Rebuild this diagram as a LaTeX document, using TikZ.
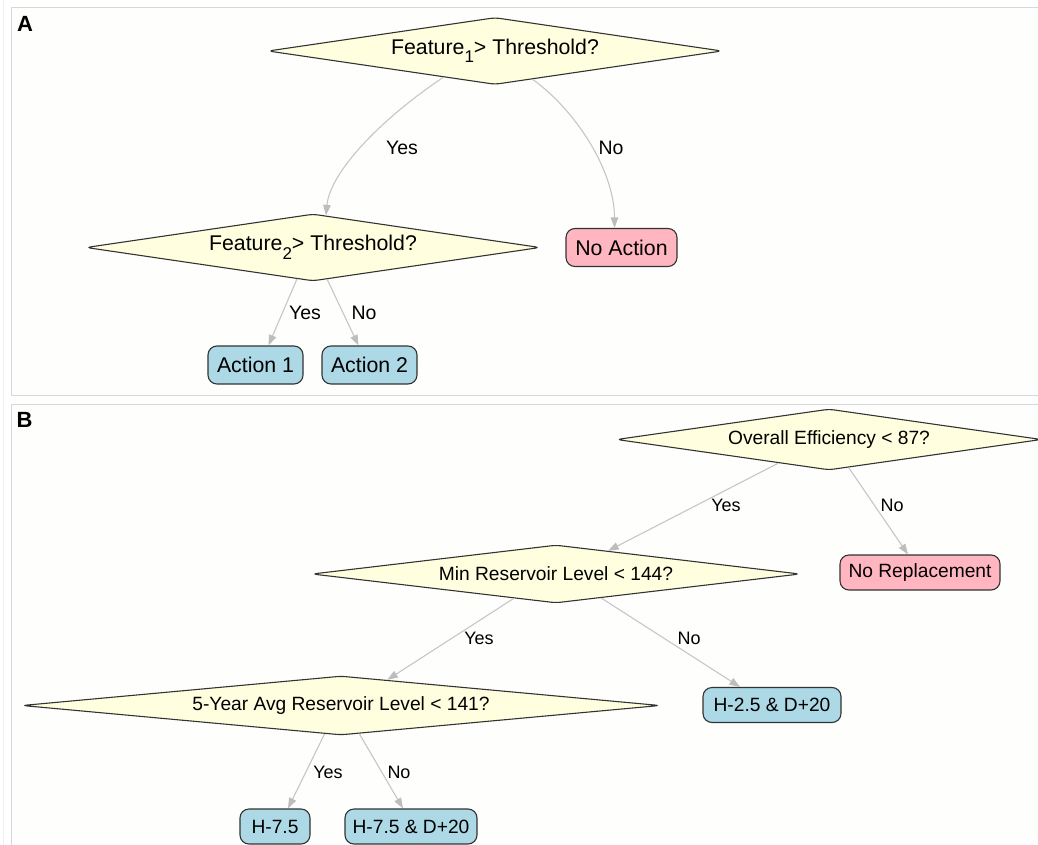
\documentclass[tikz,border=0pt]{standalone}
\usepackage{fontspec}
\setmainfont{Liberation Sans}
\usetikzlibrary{shapes.geometric,arrows.meta}
\definecolor{dfill}{HTML}{FFFFE0}
\definecolor{bfill}{HTML}{ADD8E6}
\definecolor{pfill}{HTML}{FFB6C1}
\definecolor{edgec}{HTML}{C6C6C6}
\definecolor{arrowc}{HTML}{BDBDBD}
\definecolor{framec}{HTML}{D8D8D8}
\definecolor{nodeline}{HTML}{333333}
\definecolor{panelbg}{HTML}{FEFEFC}
\newcommand\subidx[1]{\raisebox{-0.4em}{\fontsize{17}{17}\selectfont #1}}
\tikzset{
  dec/.style={diamond, aspect=9, inner sep=0pt, draw=nodeline, fill=dfill, line width=1.1pt, rounded corners=5pt},
  decA/.style={dec, font=\fontsize{21.3}{24}\selectfont},
  decB/.style={dec, font=\fontsize{19.2}{22}\selectfont},
  leafbox/.style={rectangle, rounded corners=9pt, draw=nodeline, line width=1.1pt, inner sep=0pt},
  leafA/.style={leafbox, minimum height=38pt, font=\fontsize{21.3}{24}\selectfont},
  leafB/.style={leafbox, minimum height=35pt, font=\fontsize{19.2}{22}\selectfont},
  bleaf/.style={fill=bfill},
  pleaf/.style={fill=pfill},
  lblA/.style={font=\fontsize{19.5}{22}\selectfont, inner sep=0pt},
  lblB/.style={font=\fontsize{18}{21}\selectfont, inner sep=0pt},
  panelbox/.style={draw=framec, line width=1.6pt, fill=panelbg},
  paneltag/.style={font=\fontsize{22}{24}\selectfont\bfseries, inner sep=0pt},
  edge/.style={draw=edgec, line width=1.1pt, -{Triangle[length=10.5pt,width=7.5pt,color=arrowc]}}
}
\begin{document}
\begin{tikzpicture}[x=1pt,y=-1pt]
\useasboundingbox (0,0) rectangle (1038,845);
\clip (0,0) rectangle (1038,845);
\fill[white] (0,0) rectangle (1038,845);
\draw[color=framec!40, line width=1pt] (3.5,0) -- (3.5,845);
\draw[panelbox] (11.5,7.5) rectangle (1060,395.5);
\draw[panelbox] (11.5,404.5) rectangle (1060,880);
\node[paneltag] (tagA) at (25,24) {A};
\node[paneltag] (tagB) at (24.5,420) {B};

% Panel A
\node[decA, minimum width=454pt, minimum height=67pt] (d1) at (495,51) {Feature\subidx{1}> Threshold?};
\node[decA, minimum width=454pt, minimum height=67pt] (d2) at (313,247.5) {Feature\subidx{2}> Threshold?};
\node[leafA, pleaf, minimum width=111pt] (na) at (621.5,247.5) {No Action};
\node[leafA, bleaf, minimum width=95pt] (a1) at (255.5,365) {Action 1};
\node[leafA, bleaf, minimum width=95pt] (a2) at (369.5,365) {Action 2};

\draw[edge] (d1.-153) .. controls +(-63,42) and +(4,-43) .. (d2.68);
\draw[edge] (d1.-37) .. controls +(42,30) and +(0,-58) .. ([xshift=-7pt]na.north);
\draw[edge] (d2.-117) -- ([xshift=13pt]a1.north);
\draw[edge] (d2.-66) -- ([xshift=-11pt]a2.north);

\node[lblA] (yA1) at (402,148) {Yes};
\node[lblA] (nA1) at (611,148) {No};
\node[lblA] (yA2) at (305,313) {Yes};
\node[lblA] (nA2) at (364,313) {No};

% Panel B
\node[decB, minimum width=425pt, minimum height=61pt] (b1) at (829,439.5) {Overall Efficiency < 87?};
\node[decB, minimum width=488pt, minimum height=58pt] (b2) at (556,574) {Min Reservoir Level < 144?};
\node[decB, minimum width=638pt, minimum height=59pt] (b3) at (341,705.5) {5-Year Avg Reservoir Level < 141?};
\node[leafB, pleaf, minimum width=160pt] (nr) at (920,572.5) {No Replacement};
\node[leafB, bleaf, minimum width=138pt] (h25) at (772,705) {H-2.5 \& D+20};
\node[leafB, bleaf, minimum width=70pt] (h75) at (275,826.5) {H-7.5};
\node[leafB, bleaf, minimum width=132pt] (h75d) at (411,826.5) {H-7.5 \& D+20};

\draw[edge] (b1.-155) -- (b2.24);
\draw[edge] (b1.-55) -- ([xshift=-12pt]nr.north);
\draw[edge] (b2.-150) -- (b3.29);
\draw[edge] (b2.-28) -- ([xshift=-32pt]h25.north);
\draw[edge] (b3.-120) -- ([xshift=13pt]h75.north);
\draw[edge] (b3.-57) -- ([xshift=-8pt]h75d.north);

\node[lblB] (yB1) at (726,505) {Yes};
\node[lblB] (nB1) at (892,505) {No};
\node[lblB] (yB2) at (479,638) {Yes};
\node[lblB] (nB2) at (689,638) {No};
\node[lblB] (yB3) at (328,772) {Yes};
\node[lblB] (nB3) at (399,772) {No};
\end{tikzpicture}
\end{document}
